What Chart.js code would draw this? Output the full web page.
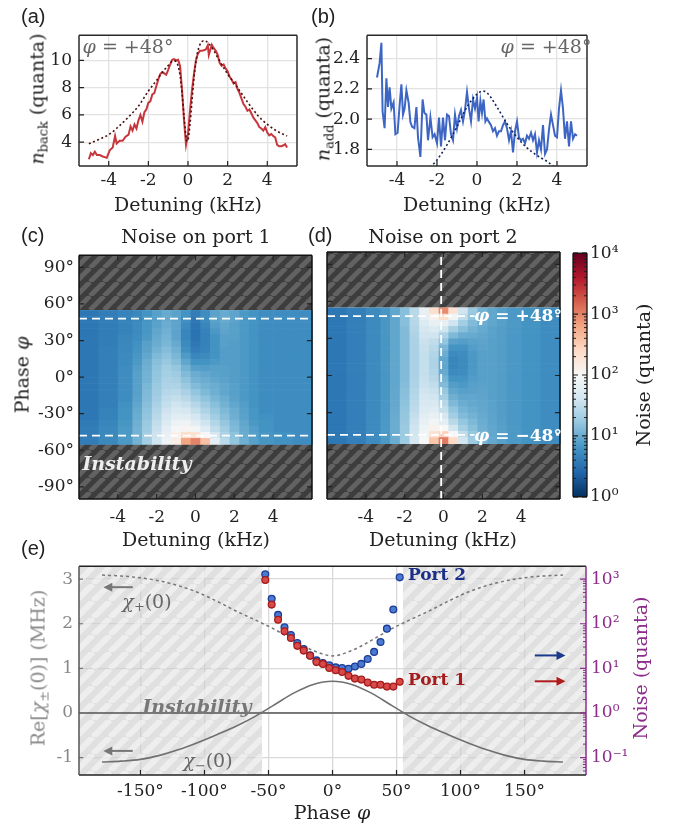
<!DOCTYPE html>
<html>
<head>
<meta charset="utf-8">
<title>Noise vs detuning and phase</title>
<script src="https://cdn.jsdelivr.net/npm/chart.js@4.4.1/dist/chart.umd.min.js"></script>
<style>
  body { margin: 0; background: #fff; }
  #fig { position: relative; width: 683px; height: 833px; overflow: hidden; font-family: 'DejaVu Serif', serif; color: #222; }
  #fig canvas { position: absolute; }
  .lbl { position: absolute; white-space: nowrap; transform: translate(-50%, -50%); font-size: 19px; line-height: 1; }
  .rot { transform: translate(-50%, -50%) rotate(-90deg); }
  .pan { position: absolute; font-family: 'Liberation Sans', Arial, sans-serif; font-size: 20px; line-height: 1; }
  sub { font-size: 0.68em; vertical-align: -0.3em; line-height: 0; }
</style>
</head>
<body>
<div id="fig">
  <canvas id="chA" width="280" height="180" style="left:28px;top:18px"></canvas>
  <canvas id="chB" width="282" height="180" style="left:316px;top:18px"></canvas>
  <canvas id="chC" width="302" height="290" style="left:20px;top:240px"></canvas>
  <canvas id="chD" width="250" height="290" style="left:320px;top:240px"></canvas>
  <canvas id="chBar" width="82" height="270" style="left:566px;top:240px"></canvas>
  <canvas id="chE" width="625" height="275" style="left:25px;top:550px"></canvas>

  <div class="pan" style="left:21px;top:6px">(a)</div>
  <div class="pan" style="left:311px;top:6px">(b)</div>
  <div class="pan" style="left:21px;top:225px">(c)</div>
  <div class="pan" style="left:308px;top:225px">(d)</div>
  <div class="pan" style="left:21px;top:538px">(e)</div>

  <div class="lbl" style="left:188px;top:204px">Detuning (kHz)</div>
  <div class="lbl" style="left:477px;top:204px">Detuning (kHz)</div>
  <div class="lbl rot" style="left:37px;top:99px"><i>n</i><sub>back</sub> (quanta)</div>
  <div class="lbl rot" style="left:323px;top:99px"><i>n</i><sub>add</sub> (quanta)</div>
  <div class="lbl" style="left:128px;top:46px;color:#666"><i>φ</i> = +48°</div>
  <div class="lbl" style="left:546px;top:46px;color:#666"><i>φ</i> = +48°</div>

  <div class="lbl" style="left:196px;top:236px">Noise on port 1</div>
  <div class="lbl" style="left:443px;top:236px">Noise on port 2</div>
  <div class="lbl" style="left:196px;top:539px">Detuning (kHz)</div>
  <div class="lbl" style="left:443px;top:539px">Detuning (kHz)</div>
  <div class="lbl rot" style="left:22px;top:375px">Phase <i>φ</i></div>
  <div class="lbl rot" style="left:643px;top:375px">Noise (quanta)</div>
  <div class="lbl" style="left:137px;top:463px;color:#eee;font-style:italic;font-weight:bold">Instability</div>
  <div class="lbl" style="left:518px;top:315px;color:#fff;font-weight:bold;font-size:17px"><i>φ</i> = +48°</div>
  <div class="lbl" style="left:518px;top:435px;color:#fff;font-weight:bold;font-size:17px"><i>φ</i> = −48°</div>

  <div class="lbl" style="left:332px;top:812px">Phase <i>φ</i></div>
  <div class="lbl rot" style="left:38px;top:668px;color:#888">Re[<i>χ</i><sub>±</sub>(0)] (MHz)</div>
  <div class="lbl rot" style="left:640px;top:668px;color:#8c2d8c">Noise (quanta)</div>
  <div class="lbl" style="left:197px;top:706px;color:#777;font-style:italic;font-weight:bold">Instability</div>
  <div class="lbl" style="left:147px;top:601px;color:#666"><i>χ</i><sub>+</sub>(0)</div>
  <div class="lbl" style="left:208px;top:760px;color:#666"><i>χ</i><sub>−</sub>(0)</div>
  <div class="lbl" style="left:437px;top:574px;color:#1c2f86;font-weight:bold;font-size:17px">Port 2</div>
  <div class="lbl" style="left:437px;top:679px;color:#a51b1b;font-weight:bold;font-size:17px">Port 1</div>
</div>

<script>
// ---- (a) backaction noise at phi = +48 deg
const detA = [-5.0,-4.9,-4.8,-4.7,-4.6,-4.45,-4.3,-4.1,-3.95,-3.8,-3.68,-3.6,-3.45,-3.3,-3.15,-3.0,-2.9,-2.8,-2.7,-2.6,
  -2.5,-2.4,-2.3,-2.2,-2.1,-2.0,-1.9,-1.8,-1.7,-1.6,-1.5,-1.4,-1.3,-1.2,-1.1,-1.0,-0.9,-0.8,-0.7,-0.6,
  -0.5,-0.4,-0.3,-0.2,-0.1,0.0,0.1,0.2,0.3,0.4,0.5,0.6,0.7,0.8,0.9,1.0,1.05,1.2,1.3,1.4,
  1.5,1.6,1.7,1.8,1.9,2.0,2.1,2.2,2.3,2.4,2.5,2.6,2.7,2.8,2.9,3.0,3.1,3.2,3.3,3.4,
  3.5,3.6,3.7,3.8,3.9,4.0,4.1,4.2,4.3,4.4,4.5,4.6,4.7,4.8,4.9,5.0];
const nBack = [2.75,3.2,3.05,3.3,3.05,3.05,2.95,2.85,3.4,3.6,4.45,3.9,4.1,4.1,4.4,4.55,5.15,4.85,5.3,5.0,
  5.6,6.0,5.5,6.2,6.4,6.9,7.0,7.5,7.6,8.1,8.6,9.0,9.15,9.05,8.95,9.3,9.7,10.05,10.1,10.0,
  10.05,9.6,7.8,5.6,3.8,4.6,6.3,7.8,9.0,10.0,10.5,10.7,10.7,10.75,10.8,11.1,10.4,11.15,10.9,10.7,
  10.4,9.8,9.6,9.7,9.4,9.2,8.8,8.6,8.3,8.4,7.9,7.6,7.2,6.8,6.6,6.3,6.4,6.1,5.8,5.6,
  5.4,5.1,5.0,4.85,5.1,4.7,4.5,4.6,4.45,4.35,3.8,3.7,3.7,3.75,3.85,3.6];
const detTheoryA = [-5.0,-4.5,-4.0,-3.5,-3.0,-2.5,-2.0,-1.5,-1.25,-1.0,-0.8,-0.7,-0.6,-0.5,-0.4,-0.3,-0.2,-0.1,-0.05,
  0.0,0.1,0.2,0.3,0.4,0.5,0.6,0.7,0.8,0.9,1.0,1.25,1.5,2.0,2.5,3.0,3.5,4.0,4.5,5.0];
const nBackTheory = [3.88,4.2,4.55,5.15,5.85,6.65,7.75,8.7,9.2,9.62,9.93,9.98,9.9,9.6,8.9,7.6,5.9,4.4,4.05,
  4.15,5.3,7.0,8.7,9.9,10.7,11.15,11.38,11.45,11.42,11.3,10.85,10.2,9.0,8.0,6.95,6.0,5.3,4.8,4.45];

// ---- (b) added noise at phi = +48 deg
const detB = [-5.0,-4.87,-4.78,-4.72,-4.62,-4.53,-4.45,-4.37,-4.28,-4.17,-4.08,-3.97,-3.87,-3.78,-3.7,-3.62,-3.53,-3.42,-3.33,-3.25,
  -3.13,-3.03,-2.95,-2.83,-2.72,-2.63,-2.53,-2.45,-2.33,-2.22,-2.12,-2.0,-1.9,-1.8,-1.7,-1.6,-1.5,-1.4,-1.3,-1.2,
  -1.1,-1.0,-0.9,-0.8,-0.7,-0.6,-0.5,-0.4,-0.3,-0.2,-0.1,0.0,0.08,0.17,0.25,0.33,0.42,0.5,0.58,0.7,
  0.8,0.9,1.0,1.1,1.2,1.3,1.4,1.5,1.6,1.7,1.8,1.9,2.0,2.1,2.2,2.3,2.4,2.5,2.6,2.7,
  2.8,2.9,3.0,3.1,3.2,3.3,3.4,3.5,3.6,3.7,3.8,3.9,4.0,4.1,4.2,4.3,4.4,4.5,4.6,4.7,4.8,4.9,5.0];
const nAdd = [2.275,2.37,2.505,2.05,1.94,2.27,2.08,2.21,2.07,2.11,1.90,1.91,2.09,2.23,2.03,2.07,2.19,2.11,1.98,1.95,
  1.94,2.08,1.88,1.75,2.13,2.04,2.03,1.86,2.01,1.88,1.90,1.84,2.01,1.82,2.01,1.86,2.03,2.02,1.90,1.86,
  2.03,1.94,2.02,2.06,1.985,2.06,2.18,2.07,1.985,2.13,2.07,2.14,1.985,2.12,2.04,2.13,1.985,2.005,1.985,1.96,
  1.92,1.94,1.89,1.92,1.92,1.96,1.985,1.94,1.86,1.92,1.78,1.92,1.985,1.88,1.86,1.87,1.84,1.89,1.87,1.91,
  1.86,1.90,1.78,1.86,1.80,1.96,1.77,1.80,1.93,2.03,1.96,1.89,1.88,2.07,2.19,2.07,1.87,1.985,1.82,1.985,1.87,1.90,1.89];
const detTheoryB = [-2.5,-2.0,-1.5,-1.0,-0.5,0.0,0.3,0.5,1.0,1.5,2.0,2.5,3.0,3.5,4.0];
const nAddTheory = [1.66,1.73,1.83,1.95,2.08,2.165,2.185,2.175,2.08,1.97,1.88,1.81,1.76,1.72,1.67];

// ---- (c), (d) noise maps: log10(noise / quanta) per cell
const detEdges = [-6,-5,-4,-3.25,-2.75,-2.25,-1.75,-1.25,-0.75,-0.25,0.25,0.75,1.25,1.75,2.25,2.75,3.25,4,5,6];
const phaseRows = [52.5,47.5,42.5,37.5,32.5,27.5,22.5,17.5,12.5,7.5,2.5,-2.5,-7.5,-12.5,-17.5,-22.5,-27.5,-32.5,-37.5,-42.5,-47.5,-52.5];
const logNoisePort1 = [
  [0.55,0.6,0.65,0.7,0.8,0.9,0.98,0.92,0.8,0.6,0.75,0.92,0.98,0.93,0.85,0.8,0.75,0.75,0.75],
  [0.55,0.6,0.65,0.7,0.8,0.9,0.98,0.92,0.76,0.56,0.72,0.92,0.98,0.93,0.85,0.8,0.75,0.75,0.75],
  [0.55,0.6,0.65,0.72,0.82,0.92,1.0,0.93,0.72,0.53,0.68,0.88,0.95,0.9,0.85,0.8,0.75,0.75,0.75],
  [0.55,0.6,0.65,0.72,0.82,0.95,1.03,0.93,0.68,0.52,0.64,0.84,0.93,0.9,0.85,0.8,0.75,0.75,0.75],
  [0.55,0.6,0.68,0.75,0.85,0.98,1.06,0.93,0.68,0.52,0.64,0.8,0.9,0.9,0.85,0.8,0.75,0.75,0.75],
  [0.55,0.6,0.7,0.78,0.9,1.0,1.08,0.98,0.72,0.56,0.64,0.8,0.9,0.88,0.85,0.8,0.75,0.75,0.75],
  [0.55,0.62,0.7,0.8,0.92,1.05,1.13,1.03,0.77,0.6,0.66,0.8,0.88,0.88,0.85,0.8,0.75,0.75,0.75],
  [0.55,0.62,0.72,0.82,0.95,1.1,1.18,1.08,0.86,0.68,0.72,0.8,0.88,0.88,0.85,0.8,0.75,0.75,0.75],
  [0.55,0.62,0.72,0.85,1.0,1.15,1.24,1.14,0.95,0.8,0.8,0.85,0.88,0.88,0.85,0.8,0.75,0.75,0.75],
  [0.55,0.62,0.75,0.88,1.02,1.18,1.3,1.22,1.05,0.9,0.88,0.9,0.9,0.88,0.85,0.8,0.75,0.75,0.75],
  [0.55,0.62,0.75,0.9,1.05,1.2,1.32,1.28,1.12,1.0,0.95,0.92,0.9,0.88,0.85,0.8,0.75,0.75,0.75],
  [0.55,0.62,0.75,0.9,1.05,1.22,1.35,1.32,1.18,1.05,1.0,0.95,0.92,0.88,0.85,0.8,0.75,0.75,0.75],
  [0.55,0.62,0.75,0.9,1.08,1.25,1.38,1.38,1.25,1.12,1.05,1.0,0.95,0.9,0.85,0.8,0.75,0.75,0.75],
  [0.55,0.62,0.75,0.9,1.1,1.28,1.42,1.45,1.35,1.2,1.1,1.02,0.95,0.9,0.85,0.8,0.75,0.75,0.75],
  [0.55,0.62,0.75,0.92,1.12,1.3,1.48,1.52,1.45,1.3,1.18,1.08,1.0,0.92,0.85,0.8,0.75,0.75,0.75],
  [0.55,0.62,0.78,0.95,1.15,1.35,1.52,1.6,1.55,1.42,1.28,1.15,1.05,0.95,0.88,0.8,0.75,0.75,0.75],
  [0.55,0.65,0.8,0.98,1.18,1.4,1.58,1.68,1.65,1.52,1.38,1.22,1.1,1.0,0.9,0.82,0.75,0.75,0.75],
  [0.55,0.65,0.8,1.0,1.2,1.45,1.65,1.78,1.78,1.65,1.48,1.3,1.15,1.02,0.92,0.82,0.78,0.75,0.75],
  [0.58,0.68,0.82,1.02,1.25,1.5,1.72,1.88,1.9,1.78,1.6,1.4,1.22,1.08,0.95,0.85,0.8,0.75,0.75],
  [0.6,0.7,0.85,1.05,1.28,1.55,1.8,1.98,2.05,1.95,1.75,1.5,1.3,1.12,0.98,0.88,0.8,0.75,0.75],
  [0.6,0.7,0.85,1.05,1.3,1.58,1.85,2.1,2.35,2.3,2.0,1.65,1.38,1.18,1.0,0.9,0.82,0.78,0.75],
  [0.6,0.7,0.85,1.05,1.3,1.6,1.9,2.15,2.8,3.0,2.6,1.8,1.45,1.2,1.02,0.9,0.82,0.78,0.75]
];
const logNoisePort2 = [
  [0.55,0.62,0.72,0.82,0.95,1.15,1.45,1.85,2.35,2.95,2.3,1.6,1.25,1.05,0.95,0.9,0.85,0.8,0.75],
  [0.55,0.62,0.72,0.82,0.95,1.15,1.45,1.8,2.1,2.35,1.95,1.5,1.2,1.02,0.95,0.9,0.85,0.8,0.75],
  [0.55,0.62,0.72,0.82,0.95,1.15,1.42,1.72,1.85,1.85,1.6,1.3,1.12,1.0,0.95,0.9,0.85,0.8,0.75],
  [0.55,0.62,0.72,0.82,0.95,1.12,1.4,1.65,1.72,1.6,1.32,1.15,1.05,0.98,0.92,0.88,0.84,0.8,0.75],
  [0.55,0.62,0.72,0.82,0.95,1.12,1.38,1.6,1.6,1.38,1.1,1.0,0.98,0.95,0.92,0.88,0.84,0.8,0.75],
  [0.55,0.62,0.72,0.82,0.95,1.12,1.36,1.56,1.5,1.2,0.92,0.88,0.92,0.93,0.9,0.88,0.84,0.8,0.75],
  [0.55,0.62,0.72,0.82,0.95,1.12,1.35,1.54,1.45,1.08,0.8,0.8,0.88,0.92,0.9,0.88,0.84,0.8,0.75],
  [0.55,0.62,0.72,0.82,0.95,1.12,1.35,1.52,1.4,1.0,0.72,0.75,0.85,0.9,0.9,0.88,0.84,0.8,0.75],
  [0.55,0.62,0.72,0.82,0.95,1.12,1.35,1.52,1.38,0.95,0.68,0.72,0.84,0.9,0.9,0.88,0.84,0.8,0.75],
  [0.55,0.62,0.72,0.82,0.95,1.12,1.35,1.52,1.38,0.95,0.68,0.72,0.84,0.9,0.9,0.88,0.84,0.8,0.75],
  [0.55,0.62,0.72,0.82,0.95,1.12,1.35,1.52,1.4,0.98,0.72,0.75,0.85,0.9,0.9,0.88,0.84,0.8,0.75],
  [0.55,0.62,0.72,0.82,0.95,1.12,1.36,1.54,1.44,1.05,0.8,0.8,0.87,0.9,0.9,0.88,0.84,0.8,0.75],
  [0.55,0.62,0.72,0.82,0.95,1.13,1.38,1.56,1.5,1.12,0.88,0.85,0.9,0.92,0.9,0.88,0.84,0.8,0.75],
  [0.55,0.62,0.72,0.82,0.96,1.15,1.4,1.6,1.56,1.22,0.95,0.9,0.92,0.93,0.9,0.88,0.84,0.8,0.75],
  [0.55,0.62,0.72,0.82,0.96,1.16,1.42,1.64,1.62,1.32,1.02,0.95,0.95,0.94,0.9,0.88,0.84,0.8,0.75],
  [0.55,0.62,0.72,0.83,0.97,1.18,1.45,1.68,1.68,1.42,1.1,1.0,0.97,0.95,0.92,0.88,0.84,0.8,0.75],
  [0.55,0.62,0.72,0.83,0.98,1.2,1.48,1.72,1.75,1.52,1.2,1.06,1.0,0.96,0.92,0.88,0.84,0.8,0.75],
  [0.55,0.62,0.72,0.84,0.99,1.22,1.52,1.78,1.85,1.65,1.3,1.12,1.05,0.98,0.93,0.88,0.84,0.8,0.75],
  [0.55,0.62,0.73,0.85,1.0,1.24,1.56,1.84,1.95,1.8,1.45,1.22,1.1,1.0,0.94,0.89,0.84,0.8,0.75],
  [0.55,0.62,0.73,0.85,1.0,1.25,1.6,1.9,2.08,2.0,1.62,1.32,1.15,1.02,0.95,0.9,0.85,0.8,0.75],
  [0.55,0.62,0.73,0.85,1.0,1.26,1.62,1.95,2.3,2.45,2.0,1.5,1.22,1.05,0.96,0.9,0.85,0.8,0.75],
  [0.55,0.62,0.73,0.85,1.0,1.27,1.64,2.0,2.55,3.05,2.4,1.62,1.28,1.08,0.97,0.9,0.85,0.8,0.75]
];
const markPhases = [48, -48];
const markDet = -0.12;

// ---- (e) susceptibilities and zero-detuning noise vs phase
const phaseChi = [-180,-165,-150,-135,-120,-105,-90,-75,-60,-45,-30,-15,0,15,30,45,60,75,90,105,120,135,150,165,180];
const chiPlus = [3.09,3.07,3.03,2.96,2.85,2.70,2.50,2.28,2.08,1.87,1.62,1.40,1.28,1.40,1.62,1.87,2.08,2.28,2.50,2.70,2.85,2.96,3.03,3.07,3.09];
const chiMinus = [-1.10,-1.08,-1.04,-0.95,-0.82,-0.66,-0.48,-0.29,-0.07,0.19,0.45,0.64,0.71,0.64,0.45,0.19,-0.07,-0.29,-0.48,-0.66,-0.82,-0.95,-1.04,-1.08,-1.10];
const phasePorts = [-52.5,-47.5,-42.5,-37.5,-32.5,-27.5,-22.5,-17.5,-12.5,-7.5,-2.5,2.5,7.5,12.5,17.5,22.5,27.5,32.5,37.5,42.5,47.5,52.5];
const noisePort2 = [1288,363,158,83,56,37,27,19.5,15.1,13.2,11.7,10.5,10.2,9.8,11.0,12.6,16.2,23.4,38.9,77.6,209,1096];
const noisePort1 = [955,269,123,68,48,32,25,19.1,13.8,12.6,10.2,9.1,8.3,6.8,5.9,5.6,4.8,4.3,4.3,3.9,3.9,5.0];
const stableEdge = 55; // |phase| beyond this is unstable

const RDBU_R = ['#053061','#2166ac','#4393c3','#92c5de','#d1e5f0','#f7f7f7','#fddbc7','#f4a582','#d6604d','#b2182b','#67001f'];
const rgb = h => [1, 3, 5].map(i => parseInt(h.substr(i, 2), 16));
function cmap(e) {
  const t = Math.min(Math.max(e / 4, 0), 1) * 10;
  const i = Math.min(Math.floor(t), 9), f = t - i;
  const a = rgb(RDBU_R[i]), b = rgb(RDBU_R[i + 1]);
  return 'rgb(' + a.map((v, k) => Math.round(v + (b[k] - v) * f)).join(',') + ')';
}

const pts = (xs, ys) => xs.map((x, i) => ({ x, y: ys[i] }));
const setTicks = vals => s => { s.ticks = vals.map(v => ({ value: v })); };
const supMap = { '-': '⁻', '0': '⁰', '1': '¹', '2': '²', '3': '³', '4': '⁴' };
const pow10 = v => '10' + String(Math.round(Math.log10(v))).split('').map(c => supMap[c]).join('');
const deg = v => v + '°';
const minorLog = (lo, hi) => {
  const out = [];
  for (let d = lo; d < hi; d *= 10) for (let k = 2; k < 10; k++) out.push(d * k);
  return out;
};

Chart.defaults.font.family = "'DejaVu Serif', serif";
Chart.defaults.font.size = 17;
Chart.defaults.color = '#222';

// hatched bands, drawn under the data
const bands = cfg => ({
  id: 'bands',
  beforeDatasetsDraw(chart) {
    const { ctx, chartArea: a } = chart;
    const c = document.createElement('canvas');
    c.width = c.height = cfg.size;
    const g = c.getContext('2d');
    g.fillStyle = cfg.bg; g.fillRect(0, 0, cfg.size, cfg.size);
    g.strokeStyle = cfg.fg; g.lineWidth = cfg.lw;
    g.beginPath();
    for (let k = -1; k <= 1; k++) { g.moveTo(k * cfg.size, cfg.size); g.lineTo((k + 1) * cfg.size, 0); }
    g.stroke();
    const s = chart.scales[cfg.axis];
    ctx.save();
    ctx.fillStyle = ctx.createPattern(c, 'repeat');
    cfg.ranges.forEach(([lo, hi]) => {
      const p0 = s.getPixelForValue(lo), p1 = s.getPixelForValue(hi);
      if (cfg.axis === 'x') ctx.fillRect(Math.min(p0, p1), a.top, Math.abs(p1 - p0), a.height);
      else ctx.fillRect(a.left, Math.min(p0, p1), a.width, Math.abs(p1 - p0));
    });
    ctx.restore();
  }
});

// noise map cells
const heat = cells => ({
  id: 'heat',
  beforeDatasetsDraw(chart) {
    const { ctx } = chart, x = chart.scales.x, y = chart.scales.y;
    const half = Math.abs(phaseRows[0] - phaseRows[1]) / 2;
    ctx.save();
    cells.forEach((row, r) => {
      const yt = y.getPixelForValue(phaseRows[r] + half), yb = y.getPixelForValue(phaseRows[r] - half);
      row.forEach((v, c) => {
        const xl = x.getPixelForValue(detEdges[c]), xr = x.getPixelForValue(detEdges[c + 1]);
        ctx.fillStyle = cmap(v);
        ctx.fillRect(xl, yt, xr - xl + 0.6, yb - yt + 0.6);
      });
    });
    ctx.restore();
  }
});

// colorbar fill
const cbar = () => ({
  id: 'cbar',
  beforeDatasetsDraw(chart) {
    const { ctx, chartArea: a } = chart, y = chart.scales.y;
    const g = ctx.createLinearGradient(0, y.getPixelForValue(1), 0, y.getPixelForValue(1e4));
    RDBU_R.forEach((c, i) => g.addColorStop(i / 10, c));
    ctx.fillStyle = g;
    ctx.fillRect(a.left, a.top, a.width, a.height);
  }
});

// inward tick marks
const inTicks = marks => ({
  id: 'inTicks',
  afterDatasetsDraw(chart) {
    const { ctx, chartArea: a } = chart;
    ctx.save();
    marks.forEach(m => {
      const s = chart.scales[m.scale];
      const vals = m.values || s.ticks.map(t => t.value);
      ctx.strokeStyle = m.color || '#222';
      ctx.lineWidth = m.width || 1.2;
      ctx.beginPath();
      vals.forEach(v => {
        if (v < s.min || v > s.max) return;
        const p = s.getPixelForValue(v);
        if (m.side === 'bottom') { ctx.moveTo(p, a.bottom); ctx.lineTo(p, a.bottom - m.len); }
        if (m.side === 'top') { ctx.moveTo(p, a.top); ctx.lineTo(p, a.top + m.len); }
        if (m.side === 'left') { ctx.moveTo(a.left, p); ctx.lineTo(a.left + m.len, p); }
        if (m.side === 'right') { ctx.moveTo(a.right, p); ctx.lineTo(a.right - m.len, p); }
      });
      ctx.stroke();
    });
    ctx.restore();
  }
});

// axes box
const frame = (colors, width) => ({
  id: 'frame',
  afterDatasetsDraw(chart) {
    const { ctx, chartArea: a } = chart;
    ctx.save();
    ctx.lineWidth = width || 1.5;
    [['top', a.left, a.top, a.right, a.top], ['bottom', a.left, a.bottom, a.right, a.bottom],
     ['left', a.left, a.top, a.left, a.bottom], ['right', a.right, a.top, a.right, a.bottom]].forEach(([k, x0, y0, x1, y1]) => {
      ctx.strokeStyle = typeof colors === 'string' ? colors : colors[k];
      ctx.beginPath(); ctx.moveTo(x0, y0); ctx.lineTo(x1, y1); ctx.stroke();
    });
    ctx.restore();
  }
});

// arrows pointing to the relevant axis in (e)
const arrows = items => ({
  id: 'arrows',
  afterDatasetsDraw(chart) {
    const { ctx } = chart, x = chart.scales.x, y = chart.scales.y;
    ctx.save();
    items.forEach(it => {
      const x0 = x.getPixelForValue(it.from), x1 = x.getPixelForValue(it.to), py = y.getPixelForValue(it.y);
      const dir = Math.sign(x1 - x0);
      ctx.strokeStyle = ctx.fillStyle = it.color;
      ctx.lineWidth = 2;
      ctx.beginPath(); ctx.moveTo(x0, py); ctx.lineTo(x1 - dir * 6, py); ctx.stroke();
      ctx.beginPath(); ctx.moveTo(x1, py); ctx.lineTo(x1 - dir * 9, py - 4.5); ctx.lineTo(x1 - dir * 9, py + 4.5); ctx.closePath(); ctx.fill();
    });
    ctx.restore();
  }
});

function baseOptions(padding, scales) {
  return {
    responsive: false, animation: false, devicePixelRatio: 1, events: [],
    layout: { padding, autoPadding: false },
    scales,
    plugins: { legend: { display: false }, tooltip: { enabled: false } }
  };
}
const lineDs = (data, color, width, dash, extra) => Object.assign({
  data, showLine: true, borderColor: color, borderWidth: width, borderDash: dash || [], pointRadius: 0, fill: false
}, extra || {});

// (a)
new Chart(document.getElementById('chA'), {
  type: 'scatter',
  data: { datasets: [
    lineDs(pts(detTheoryA, nBackTheory), '#4a0d0d', 1.6, [2, 2.5], { cubicInterpolationMode: 'monotone' }),
    lineDs(pts(detA, nBack), '#c8363d', 2)
  ] },
  options: baseOptions({ top: 14, right: 11, bottom: 0, left: 0 }, {
    x: { min: -5.5, max: 5.5, afterFit: s => { s.height = 32; }, afterBuildTicks: setTicks([-4, -2, 0, 2, 4]),
         grid: { color: '#e2e2e2', lineWidth: 1.3, drawTicks: false }, border: { display: false },
         ticks: { padding: 4, maxRotation: 0, autoSkip: false } },
    y: { min: 2.25, max: 11.85, afterFit: s => { s.width = 51; }, afterBuildTicks: setTicks([4, 6, 8, 10]),
         grid: { color: '#e2e2e2', lineWidth: 1.3, drawTicks: false }, border: { display: false },
         ticks: { padding: 7, autoSkip: false } }
  }),
  plugins: [inTicks([{ scale: 'x', side: 'bottom', len: 5 }, { scale: 'y', side: 'left', len: 5 }]), frame('#2a2a2a')]
});

// (b)
new Chart(document.getElementById('chB'), {
  type: 'scatter',
  data: { datasets: [
    lineDs(pts(detTheoryB, nAddTheory), '#14245a', 1.6, [2, 2.5], { cubicInterpolationMode: 'monotone' }),
    lineDs(pts(detB, nAdd), '#3d66c4', 2)
  ] },
  options: baseOptions({ top: 14, right: 11, bottom: 0, left: 0 }, {
    x: { min: -5.5, max: 5.5, afterFit: s => { s.height = 32; }, afterBuildTicks: setTicks([-4, -2, 0, 2, 4]),
         grid: { color: '#e2e2e2', lineWidth: 1.3, drawTicks: false }, border: { display: false },
         ticks: { padding: 4, maxRotation: 0, autoSkip: false } },
    y: { min: 1.69, max: 2.555, afterFit: s => { s.width = 51; }, afterBuildTicks: setTicks([1.8, 2.0, 2.2, 2.4]),
         grid: { color: '#e2e2e2', lineWidth: 1.3, drawTicks: false }, border: { display: false },
         ticks: { padding: 7, autoSkip: false, callback: v => v.toFixed(1) } }
  }),
  plugins: [inTicks([{ scale: 'x', side: 'bottom', len: 5 }, { scale: 'y', side: 'left', len: 5 }]), frame('#2a2a2a')]
});

// (c), (d)
function mapChart(id, cells, leftW, showY, dashSets) {
  return new Chart(document.getElementById(id), {
    type: 'scatter',
    data: { datasets: dashSets.map(d => lineDs(d, '#ffffff', 1.8, [8, 5])) },
    options: baseOptions({ top: 12, right: 10, bottom: 0, left: 0 }, {
      x: { min: -6, max: 6, afterFit: s => { s.height = 31; }, afterBuildTicks: setTicks([-4, -2, 0, 2, 4]),
           grid: { display: false, drawTicks: false }, border: { display: false },
           ticks: { padding: 8, maxRotation: 0, autoSkip: false } },
      y: { min: -100, max: 100, afterFit: s => { s.width = leftW; }, afterBuildTicks: setTicks([-90, -60, -30, 0, 30, 60, 90]),
           grid: { display: false, drawTicks: false }, border: { display: false },
           ticks: { display: showY, padding: 5, autoSkip: false, callback: deg } }
    }),
    plugins: [
      bands({ axis: 'y', ranges: [[stableEdge, 100], [-100, -stableEdge]], bg: '#3d3d3d', fg: '#626262', size: 14, lw: 5 }),
      heat(cells),
      inTicks([
        { scale: 'x', side: 'bottom', len: 5 }, { scale: 'x', side: 'top', len: 5 },
        { scale: 'y', side: 'left', len: 5 }, { scale: 'y', side: 'right', len: 5 }
      ]),
      frame('#111')
    ]
  });
}
mapChart('chC', logNoisePort1, 59, true,
  markPhases.map(p => [{ x: -6, y: p }, { x: 6, y: p }]));
mapChart('chD', logNoisePort2, 7, false,
  markPhases.map(p => [{ x: -6, y: p }, { x: 1.6, y: p }])
    .concat(markPhases.map(p => [{ x: 5.8, y: p }, { x: 6, y: p }]))
    .concat([[{ x: markDet, y: -100 }, { x: markDet, y: 100 }]]));

// colorbar
new Chart(document.getElementById('chBar'), {
  type: 'scatter',
  data: { datasets: [] },
  options: baseOptions({ top: 11, right: 0, bottom: 11, left: 7 }, {
    x: { display: false, min: 0, max: 1 },
    y: { type: 'logarithmic', position: 'right', min: 1, max: 1e4, afterFit: s => { s.width = 61; },
         afterBuildTicks: setTicks([1, 10, 100, 1000, 10000]),
         grid: { display: false, drawTicks: false }, border: { display: false },
         ticks: { padding: 3, autoSkip: false, callback: pow10 } }
  }),
  plugins: [
    cbar(),
    inTicks([
      { scale: 'y', side: 'left', len: 5 }, { scale: 'y', side: 'right', len: 5 },
      { scale: 'y', side: 'left', len: 3, values: minorLog(1, 1e4), width: 1 },
      { scale: 'y', side: 'right', len: 3, values: minorLog(1, 1e4), width: 1 }
    ]),
    frame('#111', 1.3)
  ]
});

// (e)
new Chart(document.getElementById('chE'), {
  type: 'scatter',
  data: { datasets: [
    { data: pts(phasePorts, noisePort1), yAxisID: 'yR', pointRadius: 3.4, borderWidth: 1.3,
      backgroundColor: '#d84a4a', borderColor: '#a51b1b' },
    { data: pts(phasePorts, noisePort2), yAxisID: 'yR', pointRadius: 3.4, borderWidth: 1.3,
      backgroundColor: '#4b7bd0', borderColor: '#1d3d96' },
    lineDs(pts(phaseChi, chiPlus), '#777', 1.5, [3, 3], { cubicInterpolationMode: 'monotone' }),
    lineDs(pts(phaseChi, chiMinus), '#707070', 1.6, [], { cubicInterpolationMode: 'monotone' }),
    lineDs([{ x: -198, y: 0 }, { x: 198, y: 0 }], '#555', 1.3)
  ] },
  options: baseOptions({ top: 12, right: 0, bottom: 0, left: 0 }, {
    x: { min: -198, max: 198, afterFit: s => { s.height = 50; }, afterBuildTicks: setTicks([-150, -100, -50, 0, 50, 100, 150]),
         grid: { color: '#d9d9d9', lineWidth: 1.3, drawTicks: false }, border: { display: false },
         ticks: { padding: 6, maxRotation: 0, autoSkip: false, callback: deg } },
    y: { min: -1.39, max: 3.29, afterFit: s => { s.width = 54; }, afterBuildTicks: setTicks([-1, 0, 1, 2, 3]),
         grid: { color: '#d9d9d9', lineWidth: 1.3, drawTicks: false }, border: { display: false },
         ticks: { padding: 6, autoSkip: false, color: '#888' } },
    yR: { type: 'logarithmic', position: 'right', min: 0.0407, max: 1950, afterFit: s => { s.width = 64; },
          afterBuildTicks: setTicks([0.1, 1, 10, 100, 1000]),
          grid: { display: false, drawTicks: false }, border: { display: false },
          ticks: { padding: 5, autoSkip: false, color: '#8c2d8c', callback: pow10 } }
  }),
  plugins: [
    bands({ axis: 'x', ranges: [[-198, -stableEdge], [stableEdge, 198]],
            bg: 'rgba(205,205,205,0.62)', fg: 'rgba(250,250,250,0.55)', size: 17, lw: 6 }),
    inTicks([
      { scale: 'x', side: 'bottom', len: 5 },
      { scale: 'y', side: 'left', len: 4, color: '#777' },
      { scale: 'yR', side: 'right', len: 6, color: '#8c2d8c' },
      { scale: 'yR', side: 'right', len: 3, color: '#8c2d8c', width: 1, values: minorLog(0.01, 1000) }
    ]),
    frame({ left: '#555', right: '#8c2d8c', top: '#222', bottom: '#222' }),
    arrows([
      { from: -156, to: -179, y: 2.82, color: '#777' },
      { from: -156, to: -179, y: -0.85, color: '#777' },
      { from: 158, to: 182, y: 1.29, color: '#1c3a8a' },
      { from: 158, to: 182, y: 0.71, color: '#b01c1c' }
    ])
  ]
});
</script>
</body>
</html>
